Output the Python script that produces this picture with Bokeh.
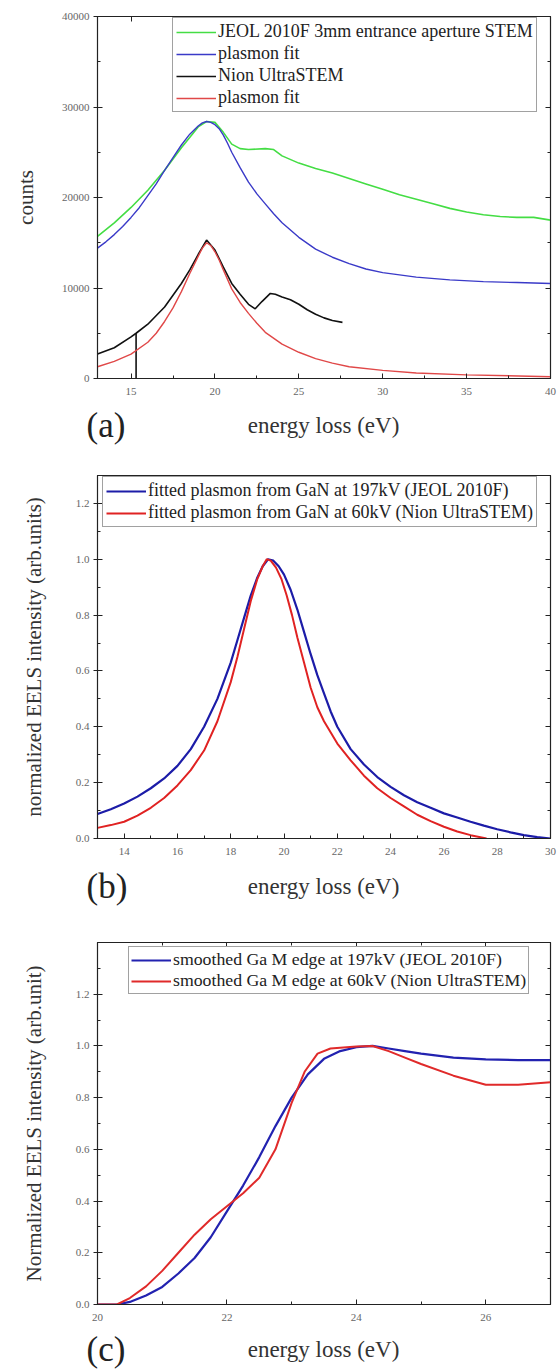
from bokeh.plotting import figure
from bokeh.models import (LinearAxis, Legend, LegendItem, Label, Range1d,
                          SingleIntervalTicker, NumeralTickFormatter,
                          CustomJSTickFormatter)
from bokeh.layouts import column
from bokeh.embed import file_html
from bokeh.resources import INLINE

SERIF = "Liberation Serif"

# ---------------- Panel (a) data ----------------
a_jeol_x = [13, 14, 15, 16, 17, 18, 19, 19.5, 20, 20.5, 21, 21.5, 22, 23, 23.5, 24,
            25, 26, 27, 28, 29, 30, 31, 32, 33, 34, 35, 36, 37, 38, 39, 40]
a_jeol_y = [15700, 17200, 18900, 20800, 23000, 25500, 27800, 28400, 28300, 27200,
            25900, 25400, 25300, 25400, 25300, 24600, 23800, 23200, 22700, 22100,
            21500, 20900, 20300, 19800, 19300, 18800, 18400, 18100, 17900, 17800,
            17800, 17500]
a_jeolfit_x = [13, 13.5, 14, 14.5, 15, 15.5, 16, 16.5, 17, 17.5, 18, 18.5, 19, 19.25,
               19.5, 19.75, 20, 20.25, 20.5, 20.75, 21, 21.5, 22, 22.5, 23, 23.5, 24,
               25, 26, 27, 28, 29, 30, 32, 34, 36, 38, 40]
a_jeolfit_y = [14400, 15100, 15900, 16800, 17800, 18900, 20200, 21500, 23000, 24400,
               25800, 27000, 27900, 28250, 28400, 28300, 28050, 27600, 26900, 26000,
               25000, 23300, 21700, 20400, 19300, 18200, 17200, 15600, 14300, 13400,
               12700, 12100, 11700, 11200, 10900, 10700, 10600, 10500]
a_nion_x = [13, 14, 15, 15.3, 16, 17, 18, 18.5, 19, 19.5, 20, 20.5, 21, 21.5, 22,
            22.4, 22.8, 23.3, 23.6, 24, 24.5, 25, 25.5, 26, 26.5, 27, 27.6]
a_nion_y = [2700, 3400, 4600, 5000, 6000, 7900, 10500, 12000, 13700, 15300, 14200,
            12300, 10500, 9300, 8200, 7700, 8500, 9400, 9300, 9000, 8700, 8200, 7600,
            7100, 6700, 6400, 6200]
a_nion_spike_x = [15.3, 15.3]
a_nion_spike_y = [0, 5000]
a_nionfit_x = [13, 14, 15, 16, 16.5, 17, 17.5, 18, 18.5, 19, 19.25, 19.5, 19.75, 20,
               20.25, 20.5, 21, 21.5, 22, 22.5, 23, 24, 25, 26, 27, 28, 30, 32, 35, 40]
a_nionfit_y = [1300, 1900, 2700, 4000, 5000, 6300, 7800, 9600, 11600, 13500, 14400,
               15000, 14700, 14000, 13100, 12000, 9900, 8400, 7200, 6100, 5100, 3800,
               2900, 2200, 1700, 1300, 900, 600, 400, 200]
a_labels = ["JEOL 2010F 3mm entrance aperture STEM", "plasmon fit",
            "Nion UltraSTEM", "plasmon fit"]

# ---------------- Panel (b) data ----------------
b_197_x = [13, 13.5, 14, 14.5, 15, 15.5, 16, 16.5, 17, 17.5, 18, 18.25, 18.5, 18.75,
           19, 19.2, 19.4, 19.6, 19.8, 20, 20.25, 20.5, 20.75, 21, 21.25, 21.5, 21.75,
           22, 22.5, 23, 23.5, 24, 24.5, 25, 25.5, 26, 26.5, 27, 27.5, 28, 28.5, 29,
           29.5, 30]
b_197_y = [0.088, 0.105, 0.125, 0.15, 0.18, 0.215, 0.26, 0.32, 0.40, 0.50, 0.63, 0.71,
           0.79, 0.87, 0.935, 0.975, 1.0, 0.995, 0.975, 0.945, 0.89, 0.82, 0.74, 0.66,
           0.585, 0.52, 0.455, 0.40, 0.32, 0.265, 0.22, 0.185, 0.155, 0.13, 0.11, 0.09,
           0.075, 0.06, 0.046, 0.033, 0.022, 0.012, 0.005, 0.0]
b_60_x = [13, 13.5, 14, 14.5, 15, 15.5, 16, 16.5, 17, 17.5, 18, 18.25, 18.5, 18.75, 19,
          19.2, 19.35, 19.5, 19.7, 19.9, 20.1, 20.3, 20.5, 20.75, 21, 21.25, 21.5, 22,
          22.5, 23, 23.5, 24, 24.5, 25, 25.5, 26, 26.5, 27, 27.6]
b_60_y = [0.038, 0.048, 0.06, 0.082, 0.11, 0.145, 0.19, 0.245, 0.315, 0.42, 0.56, 0.65,
          0.75, 0.85, 0.93, 0.975, 1.0, 0.995, 0.97, 0.93, 0.87, 0.80, 0.72, 0.63, 0.54,
          0.47, 0.42, 0.34, 0.28, 0.225, 0.18, 0.145, 0.115, 0.085, 0.062, 0.042, 0.025,
          0.012, 0.0]
b_labels = ["fitted plasmon from GaN at 197kV (JEOL 2010F)",
            "fitted plasmon from GaN at 60kV (Nion UltraSTEM)"]

# ---------------- Panel (c) data ----------------
c_197_x = [20.0, 20.3, 20.5, 20.75, 21.0, 21.25, 21.5, 21.75, 22.0, 22.25, 22.5, 22.75,
           23.0, 23.25, 23.5, 23.75, 24.0, 24.25, 24.5, 24.75, 25.0, 25.5, 26.0, 26.5, 27.0]
c_197_y = [0.0, 0.0, 0.01, 0.035, 0.068, 0.12, 0.18, 0.26, 0.36, 0.46, 0.57, 0.69,
           0.80, 0.89, 0.95, 0.98, 0.995, 1.0, 0.99, 0.98, 0.97, 0.955, 0.948, 0.945, 0.945]
c_60_x = [20.0, 20.3, 20.5, 20.75, 21.0, 21.25, 21.5, 21.75, 22.0, 22.25, 22.5, 22.75,
          23.0, 23.2, 23.4, 23.6, 24.0, 24.25, 24.5, 24.75, 25.0, 25.5, 26.0, 26.5, 27.0]
c_60_y = [0.0, 0.0, 0.025, 0.07, 0.13, 0.2, 0.27, 0.33, 0.38, 0.43, 0.49, 0.60,
          0.78, 0.90, 0.97, 0.99, 0.998, 1.0, 0.98, 0.955, 0.93, 0.885, 0.85, 0.85, 0.86]
c_labels = ["smoothed Ga M edge at 197kV (JEOL 2010F)",
            "smoothed Ga M edge at 60kV (Nion UltraSTEM)"]

XLABEL = "energy loss (eV)"
W = 560


def make_panel(xr, yr, xint, yint, yfmt, ylabel, ystandoff, height, top):
    p = figure(width=W, height=height, x_range=Range1d(*xr), y_range=Range1d(*yr),
               output_backend="svg", toolbar_location=None,
               min_border_left=97, min_border_right=10, min_border_top=top,
               min_border_bottom=24)
    p.xgrid.visible = False
    p.ygrid.visible = False
    p.outline_line_color = "#222222"
    p.outline_line_width = 1.2
    p.background_fill_color = "white"
    p.border_fill_color = "white"

    xt = SingleIntervalTicker(interval=xint, num_minor_ticks=2)
    yt = SingleIntervalTicker(interval=yint, num_minor_ticks=2)
    xa = p.xaxis[0]
    ya = p.yaxis[0]
    xa.ticker = xt
    ya.ticker = yt
    if yfmt:
        ya.formatter = NumeralTickFormatter(format=yfmt)
    for ax in (xa, ya):
        ax.axis_line_color = "#222222"
        ax.major_tick_line_color = "#222222"
        ax.minor_tick_line_color = "#222222"
        ax.major_label_text_font = SERIF
        ax.major_label_text_font_size = "11px"
        ax.major_label_text_color = "#666666"
        ax.axis_label_text_font = SERIF
        ax.axis_label_text_font_size = "21px"
        ax.axis_label_text_font_style = "normal"
        ax.axis_label_text_color = "#333333"
        ax.minor_tick_in = 3
        ax.minor_tick_out = 0
    xa.major_tick_in = 5
    xa.major_tick_out = 0
    xa.major_label_standoff = 9
    ya.major_tick_in = 5
    ya.major_tick_out = 4
    ya.major_label_standoff = 4
    ya.axis_label = ylabel
    ya.axis_label_standoff = ystandoff

    # mirrored tick marks on the top and right edges (no labels)
    for loc, tk in (("above", xt), ("right", yt)):
        ax = LinearAxis(ticker=tk, formatter=CustomJSTickFormatter(code="return ''"))
        ax.major_label_text_font_size = "1px"
        ax.major_label_standoff = 0
        ax.major_tick_in = 5
        ax.major_tick_out = 0
        ax.minor_tick_in = 3
        ax.minor_tick_out = 0
        ax.axis_line_color = "#222222"
        ax.major_tick_line_color = "#222222"
        ax.minor_tick_line_color = "#222222"
        p.add_layout(ax, loc)
    return p


def make_strip(letter, height, ymid):
    # strip under each panel holding the panel letter and the x-axis title
    s = figure(width=W, height=height, x_range=Range1d(0, W), y_range=Range1d(0, height),
               output_backend="svg", toolbar_location=None, min_border=0,
               x_axis_type=None, y_axis_type=None)
    s.frame_align = False
    s.xgrid.visible = False
    s.ygrid.visible = False
    s.outline_line_color = None
    s.add_layout(Label(x=86, y=height - ymid, text=letter, text_font=SERIF,
                       text_font_size="35px", text_color="#222222",
                       text_baseline="middle", text_align="left"))
    s.add_layout(Label(x=323, y=height - ymid, text=XLABEL, text_font=SERIF,
                       text_font_size="23px", text_color="#333333",
                       text_baseline="middle", text_align="center"))
    return s


def add_legend(p, items, loc, size, row_h, spacing, padding):
    lg = Legend(items=items, location=loc, label_text_font=SERIF,
                label_text_font_size=size, label_text_color="#222222",
                glyph_width=40, glyph_height=row_h, label_height=row_h,
                spacing=spacing, padding=padding, margin=0, label_standoff=2,
                border_line_color="#444444", border_line_width=1,
                background_fill_color="white", background_fill_alpha=1.0)
    p.add_layout(lg)


# ---------------- build (a) ----------------
pa = make_panel((13, 40), (0, 40000), 5, 10000, None, "counts", 21, 402, 16)
ra1 = pa.line(a_jeol_x, a_jeol_y, line_color="#44dd44", line_width=1.6)
ra2 = pa.line(a_jeolfit_x, a_jeolfit_y, line_color="#3a3ac8", line_width=1.4)
ra3 = pa.line(a_nion_x, a_nion_y, line_color="#111111", line_width=1.6)
pa.line(a_nion_spike_x, a_nion_spike_y, line_color="#111111", line_width=1.6)
ra4 = pa.line(a_nionfit_x, a_nionfit_y, line_color="#e04848", line_width=1.4)
add_legend(pa, [LegendItem(label=l, renderers=[r]) for l, r in
                zip(a_labels, [ra1, ra2, ra3, ra4])], (75, 266), "18px", 20, 1, 3)
sa = make_strip("(a)", 46, 23)

# ---------------- build (b) ----------------
pb = make_panel((13, 30), (0, 1.3), 2, 0.2, "0.0",
                "normalized EELS intensity (arb.units)", 27, 414, 27)
rb1 = pb.line(b_197_x, b_197_y, line_color="#1c1ca8", line_width=2.2)
rb2 = pb.line(b_60_x, b_60_y, line_color="#e02222", line_width=2.0)
add_legend(pb, [LegendItem(label=l, renderers=[r]) for l, r in
                zip(b_labels, [rb1, rb2])], (5, 311), "18px", 20, 1, 3)
sb = make_strip("(b)", 48, 24)

# ---------------- build (c) ----------------
pc = make_panel((20, 27), (0, 1.4), 2, 0.2, "0.0",
                "Normalized EELS intensity (arb.unit)", 27, 418, 32)
rc1 = pc.line(c_197_x, c_197_y, line_color="#2222b0", line_width=2.2)
rc2 = pc.line(c_60_x, c_60_y, line_color="#e02a2a", line_width=2.0)
add_legend(pc, [LegendItem(label=l, renderers=[r]) for l, r in
                zip(c_labels, [rc1, rc2])], (31, 310), "17.75px", 18, 0, 2)
sc = make_strip("(c)", 42, 21)

layout = column(pa, sa, pb, sb, pc, sc, spacing=0)
open("out.html", "w").write(file_html(layout, INLINE))
